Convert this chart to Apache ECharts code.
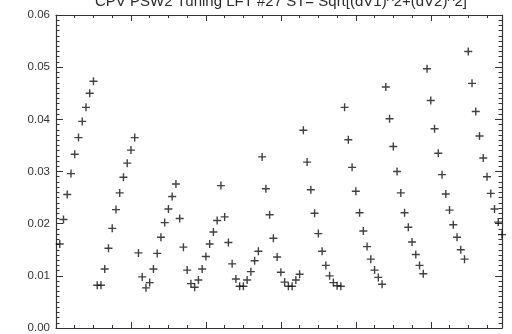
<!DOCTYPE html>
<html>
<head>
<meta charset="utf-8">
<script src="https://cdn.jsdelivr.net/npm/echarts@6/dist/echarts.min.js"></script>
<style>
  html, body { margin: 0; padding: 0; background: #fff; }
  #chart { width: 512px; height: 334px; }
</style>
</head>
<body>
<div id="chart"></div>
<script>
// Tuning step numbers (1..119) and the ST value measured at each step
const titleText = 'CPV PSW2 Tuning LFT #27 ST= Sqrt[(dV1)^2+(dV2)^2]';

const stValues = [
  0.0161, 0.0208, 0.0256, 0.0296, 0.0333, 0.0365, 0.0396, 0.0423, 0.0450, 0.0473,
  0.0082, 0.0082, 0.0113, 0.0153, 0.0191, 0.0227, 0.0259, 0.0289, 0.0316, 0.0341,
  0.0365, 0.0144, 0.0098, 0.0077, 0.0087, 0.0113, 0.0143, 0.0174, 0.0202, 0.0228,
  0.0252, 0.0276, 0.0210, 0.0155, 0.0111, 0.0085, 0.0078, 0.0092, 0.0113, 0.0137,
  0.0161, 0.0184, 0.0206, 0.0273, 0.0213, 0.0164, 0.0123, 0.0094, 0.0080, 0.0080,
  0.0092, 0.0108, 0.0129, 0.0147, 0.0328, 0.0267, 0.0217, 0.0172, 0.0136, 0.0107,
  0.0088, 0.0080, 0.0080, 0.0092, 0.0103, 0.0379, 0.0318, 0.0265, 0.0220, 0.0181,
  0.0147, 0.0120, 0.0100, 0.0087, 0.0081, 0.0080, 0.0423, 0.0361, 0.0308, 0.0262,
  0.0221, 0.0186, 0.0156, 0.0132, 0.0111, 0.0097, 0.0084, 0.0462, 0.0401, 0.0348,
  0.0300, 0.0259, 0.0221, 0.0193, 0.0165, 0.0141, 0.0120, 0.0104, 0.0497, 0.0436,
  0.0382, 0.0335, 0.0294, 0.0257, 0.0226, 0.0198, 0.0174, 0.0150, 0.0132, 0.0530,
  0.0469, 0.0415, 0.0368, 0.0326, 0.0290, 0.0258, 0.0228, 0.0203, 0.0179
];

const xMin = 0, xMax = 119, xStep = 20;
const yMin = 0, yMax = 0.06, yStep = 0.01;

const points = stValues.map((v, i) => [i + 1, v]);

const axisColor = '#333';
const plusSymbol = 'path://M3.3,0H4.7V3.3H8V4.7H4.7V8H3.3V4.7H0V3.3H3.3Z';

const xAxisBase = {
  type: 'value', min: xMin, max: xMax, interval: xStep,
  axisLine: { show: true, onZero: false, lineStyle: { color: axisColor, width: 1.2 } },
  axisTick: { show: true, inside: true, length: 6, lineStyle: { color: axisColor } },
  minorTick: { show: true, splitNumber: 4, length: 3, lineStyle: { color: axisColor } },
  axisLabel: { show: false },
  splitLine: { show: false }
};
const yAxisBase = {
  type: 'value', min: yMin, max: yMax, interval: yStep,
  axisLine: { show: true, onZero: false, lineStyle: { color: axisColor, width: 1.2 } },
  axisTick: { show: true, inside: true, length: 7, lineStyle: { color: axisColor } },
  minorTick: { show: true, splitNumber: 10, length: 3.5, lineStyle: { color: axisColor } },
  splitLine: { show: false }
};

const chart = echarts.init(document.getElementById('chart'), null, { renderer: 'canvas' });
chart.setOption({
  backgroundColor: '#fff',
  animation: false,
  title: {
    text: titleText,
    left: 281, top: -6, padding: 0, textAlign: 'center',
    textStyle: { fontFamily: 'Liberation Sans', fontSize: 15, fontWeight: 'normal', color: '#2a2a2a' }
  },
  grid: { left: 56, right: 10, top: 15, bottom: 2, containLabel: false },
  xAxis: [
    Object.assign({}, xAxisBase, { position: 'bottom' }),
    Object.assign({}, xAxisBase, { position: 'top' })
  ],
  yAxis: [
    Object.assign({}, yAxisBase, {
      position: 'left',
      axisLabel: {
        show: true, margin: 6, color: '#333',
        fontFamily: 'Liberation Sans', fontSize: 11.5,
        formatter: v => v.toFixed(2)
      }
    }),
    Object.assign({}, yAxisBase, { position: 'right', axisLabel: { show: false } })
  ],
  series: [{
    type: 'scatter',
    xAxisIndex: 0, yAxisIndex: 0,
    data: points,
    symbol: plusSymbol,
    symbolSize: 8,
    clip: false,
    itemStyle: { color: '#111' }
  }]
});
</script>
</body>
</html>
